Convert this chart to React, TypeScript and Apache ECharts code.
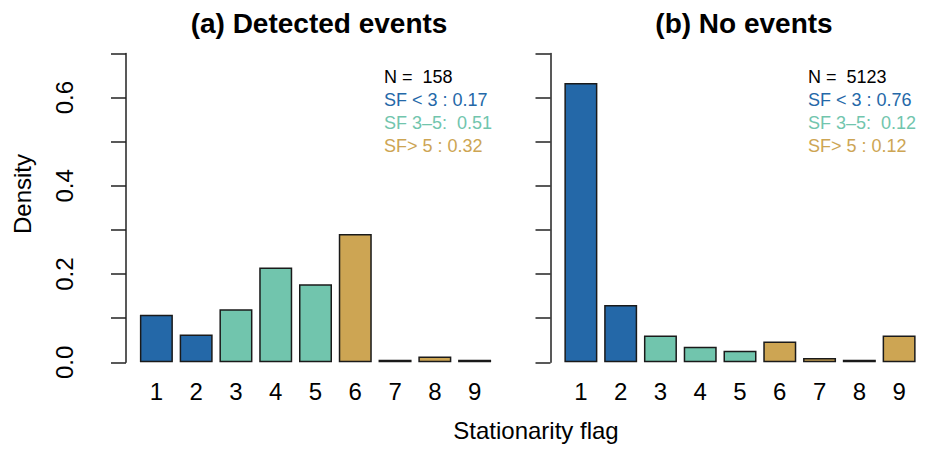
import React, { useEffect, useRef } from 'react';
import * as echarts from 'echarts';

// Stationarity flag categories
const flags = ['1', '2', '3', '4', '5', '6', '7', '8', '9'];

// Density per flag
const detectedDensity = [0.108, 0.063, 0.12, 0.215, 0.177, 0.291, 0.006, 0.013, 0.006];
const noEventDensity = [0.633, 0.13, 0.061, 0.035, 0.026, 0.047, 0.01, 0.006, 0.061];

const panelTitles = ['(a) Detected events', '(b) No events'];

// Annotation lines in each panel
const detectedNotes = ['N =  158', 'SF < 3 : 0.17', 'SF 3\u20135:  0.51', 'SF> 5 : 0.32'];
const noEventNotes = ['N =  5123', 'SF < 3 : 0.76', 'SF 3\u20135:  0.12', 'SF> 5 : 0.12'];

const BLUE = '#2468a8';
const TEAL = '#71c5ad';
const GOLD = '#cda553';
const noteColors = ['#000000', BLUE, TEAL, GOLD];
const FONT = 'Liberation Sans, Arial, Helvetica, sans-serif';

const flagColor = (i: number) => (i < 2 ? BLUE : i < 5 ? TEAL : GOLD);

const App: React.FC = () => {
  const chartRef = useRef<HTMLDivElement>(null);

  useEffect(() => {
    document.body.style.margin = '0';
    if (!chartRef.current) return;
    const chart = echarts.init(chartRef.current, undefined, { renderer: 'svg' });

    const grids = [
      { left: 136.5, top: 53.5, width: 358, height: 308.8 },
      { left: 561, top: 53.5, width: 358, height: 308.8 },
    ];

    const yAxis = (idx: number) => ({
      type: 'value' as const,
      gridIndex: idx,
      min: 0,
      max: 0.7,
      interval: 0.1,
      offset: 10.5,
      axisLine: { show: true, lineStyle: { color: '#222', width: 1.5 } },
      axisTick: { show: true, length: 15, lineStyle: { color: '#222', width: 1.5 } },
      splitLine: { show: false },
      axisLabel: {
        show: idx === 0,
        rotate: 90,
        margin: 50,
        fontSize: 24,
        color: '#000',
        fontFamily: FONT,
        formatter: (v: number) => (Math.round(v * 10) % 2 === 0 ? v.toFixed(1) : ''),
      },
    });

    const xAxis = (idx: number) => ({
      type: 'category' as const,
      gridIndex: idx,
      data: flags,
      axisLine: { show: false },
      axisTick: { show: false },
      axisLabel: { fontSize: 24, color: '#000', fontFamily: FONT, margin: 17 },
    });

    const barSeries = (idx: number, values: number[]) => ({
      type: 'bar' as const,
      xAxisIndex: idx,
      yAxisIndex: idx,
      barWidth: 33,
      data: values.map((v, i) => ({
        value: v,
        itemStyle: { color: flagColor(i), borderColor: '#1a1a1a', borderWidth: 1.5 },
      })),
    });

    const notes = (x: number, lines: string[]) =>
      lines.map((t, i) => ({
        type: 'text' as const,
        x,
        y: 76.7 + i * 23,
        style: {
          text: t,
          fill: noteColors[i],
          font: `18px ${FONT}`,
          textVerticalAlign: 'middle',
        },
      }));

    const option: echarts.EChartsOption = {
      animation: false,
      backgroundColor: '#ffffff',
      title: [
        { text: panelTitles[0], left: 314, textAlign: 'center', top: 4 },
        { text: panelTitles[1], left: 739, textAlign: 'center', top: 4 },
      ].map(t => ({
        ...t,
        textStyle: { fontSize: 28, fontWeight: 'bold', color: '#000', fontFamily: FONT },
      })),
      grid: grids,
      xAxis: [xAxis(0), xAxis(1)],
      yAxis: [yAxis(0), yAxis(1)],
      series: [barSeries(0, detectedDensity), barSeries(1, noEventDensity)],
      graphic: [
        {
          type: 'text',
          x: 22,
          y: 194,
          rotation: Math.PI / 2,
          style: {
            text: 'Density',
            fill: '#000',
            font: `24px ${FONT}`,
            textAlign: 'center',
            textVerticalAlign: 'middle',
          },
        },
        {
          type: 'text',
          x: 536,
          y: 430,
          style: {
            text: 'Stationarity flag',
            fill: '#000',
            font: `24px ${FONT}`,
            textAlign: 'center',
            textVerticalAlign: 'middle',
          },
        },
        ...notes(384, detectedNotes),
        ...notes(808, noEventNotes),
      ],
    };

    chart.setOption(option);
    return () => {
      chart.dispose();
    };
  }, []);

  return <div ref={chartRef} style={{ width: 933, height: 453 }} />;
};

export default App;
